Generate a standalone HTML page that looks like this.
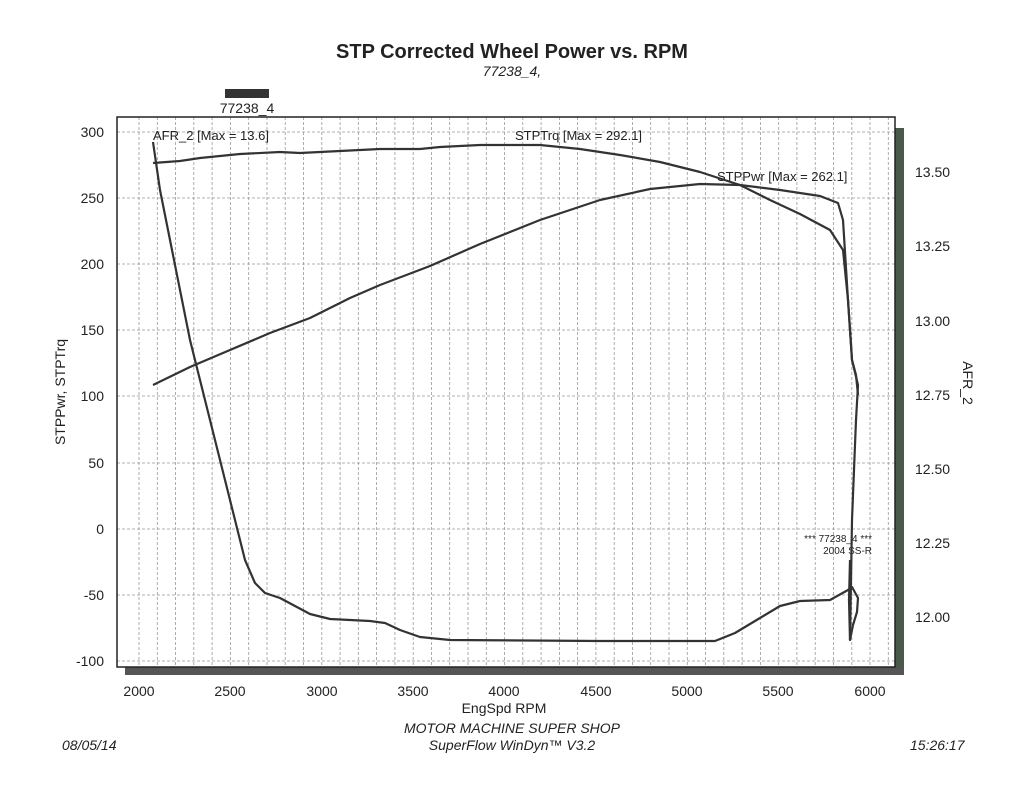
<!DOCTYPE html>
<html><head><style>body{margin:0;background:#fff}svg{display:block}</style></head><body>
<svg width="1024" height="791" viewBox="0 0 1024 791" xmlns="http://www.w3.org/2000/svg" font-family="Liberation Sans, sans-serif" fill="#222">
<rect width="1024" height="791" fill="#fff"/>
<text x="512" y="58" text-anchor="middle" font-size="20" font-weight="bold">STP Corrected Wheel Power vs. RPM</text>
<text x="512" y="76" text-anchor="middle" font-size="14" font-style="italic">77238_4,</text>
<rect x="225" y="89" width="44" height="9" fill="#333"/>
<text x="247" y="113" text-anchor="middle" font-size="14">77238_4</text>
<!-- shadow border -->
<rect x="895" y="128" width="9" height="547" fill="#4a5a4a"/>
<rect x="125" y="667" width="779" height="8" fill="#555"/>
<g stroke="#999" stroke-width="0.8" stroke-dasharray="3,2">
<line x1="139" y1="117" x2="139" y2="667"/><line x1="157.3" y1="117" x2="157.3" y2="667"/><line x1="175.6" y1="117" x2="175.6" y2="667"/><line x1="193.8" y1="117" x2="193.8" y2="667"/><line x1="212.1" y1="117" x2="212.1" y2="667"/><line x1="230.4" y1="117" x2="230.4" y2="667"/><line x1="248.7" y1="117" x2="248.7" y2="667"/><line x1="267" y1="117" x2="267" y2="667"/><line x1="285.2" y1="117" x2="285.2" y2="667"/><line x1="303.5" y1="117" x2="303.5" y2="667"/><line x1="321.8" y1="117" x2="321.8" y2="667"/><line x1="340.1" y1="117" x2="340.1" y2="667"/><line x1="358.3" y1="117" x2="358.3" y2="667"/><line x1="376.6" y1="117" x2="376.6" y2="667"/><line x1="394.9" y1="117" x2="394.9" y2="667"/><line x1="413.2" y1="117" x2="413.2" y2="667"/><line x1="431.4" y1="117" x2="431.4" y2="667"/><line x1="449.7" y1="117" x2="449.7" y2="667"/><line x1="468" y1="117" x2="468" y2="667"/><line x1="486.3" y1="117" x2="486.3" y2="667"/><line x1="504.5" y1="117" x2="504.5" y2="667"/><line x1="522.8" y1="117" x2="522.8" y2="667"/><line x1="541.1" y1="117" x2="541.1" y2="667"/><line x1="559.4" y1="117" x2="559.4" y2="667"/><line x1="577.6" y1="117" x2="577.6" y2="667"/><line x1="595.9" y1="117" x2="595.9" y2="667"/><line x1="614.2" y1="117" x2="614.2" y2="667"/><line x1="632.5" y1="117" x2="632.5" y2="667"/><line x1="650.7" y1="117" x2="650.7" y2="667"/><line x1="669" y1="117" x2="669" y2="667"/><line x1="687.3" y1="117" x2="687.3" y2="667"/><line x1="705.6" y1="117" x2="705.6" y2="667"/><line x1="723.8" y1="117" x2="723.8" y2="667"/><line x1="742.1" y1="117" x2="742.1" y2="667"/><line x1="760.4" y1="117" x2="760.4" y2="667"/><line x1="778.7" y1="117" x2="778.7" y2="667"/><line x1="796.9" y1="117" x2="796.9" y2="667"/><line x1="815.2" y1="117" x2="815.2" y2="667"/><line x1="833.5" y1="117" x2="833.5" y2="667"/><line x1="851.8" y1="117" x2="851.8" y2="667"/><line x1="870" y1="117" x2="870" y2="667"/><line x1="888.3" y1="117" x2="888.3" y2="667"/>
<line x1="117" y1="132" x2="895" y2="132"/><line x1="117" y1="198" x2="895" y2="198"/><line x1="117" y1="264" x2="895" y2="264"/><line x1="117" y1="330" x2="895" y2="330"/><line x1="117" y1="396" x2="895" y2="396"/><line x1="117" y1="463" x2="895" y2="463"/><line x1="117" y1="529" x2="895" y2="529"/><line x1="117" y1="595" x2="895" y2="595"/><line x1="117" y1="661" x2="895" y2="661"/>
</g>
<rect x="117" y="117" width="778" height="550" fill="none" stroke="#222" stroke-width="1.5"/>
<g font-size="14" text-anchor="end">
<text x="104" y="137">300</text><text x="104" y="203">250</text><text x="104" y="269">200</text><text x="104" y="335">150</text><text x="104" y="401">100</text><text x="104" y="468">50</text><text x="104" y="534">0</text><text x="104" y="600">-50</text><text x="104" y="666">-100</text>
</g>
<g font-size="14" text-anchor="start">
<text x="915" y="177">13.50</text><text x="915" y="251">13.25</text><text x="915" y="326">13.00</text><text x="915" y="400">12.75</text><text x="915" y="474">12.50</text><text x="915" y="548">12.25</text><text x="915" y="622">12.00</text>
</g>
<g font-size="14" text-anchor="middle">
<text x="139" y="696">2000</text><text x="230" y="696">2500</text><text x="322" y="696">3000</text><text x="413" y="696">3500</text><text x="504" y="696">4000</text><text x="596" y="696">4500</text><text x="687" y="696">5000</text><text x="778" y="696">5500</text><text x="870" y="696">6000</text>
<text x="504" y="713">EngSpd RPM</text>
</g>
<text transform="translate(65,392) rotate(-90)" font-size="14" text-anchor="middle">STPPwr, STPTrq</text>
<text transform="translate(963,383) rotate(90)" font-size="14" text-anchor="middle">AFR_2</text>
<g font-size="13">
<text x="153" y="140">AFR_2  [Max = 13.6]</text>
<text x="515" y="140">STPTrq [Max = 292.1]</text>
<text x="717" y="181">STPPwr [Max = 262.1]</text>
</g>
<text x="872" y="542" font-size="10" text-anchor="end">*** 77238_4 ***</text>
<text x="872" y="554" font-size="10" text-anchor="end">2004 SS-R</text>
<g fill="none" stroke="#333" stroke-width="2.2" stroke-linejoin="round">
<polyline points="153,163 180,161 200,158 240,154 280,152 300,153 340,151 380,149 420,149 440,147 480,145 540,145 580,149 620,155 660,162 700,172 740,185 770,200 800,214 830,230 843,250 848,300 852,360 858,385 856,420 852,520 850,640"/>
<polyline points="153,385 190,367 230,350 270,333 310,318 350,298 380,285 430,266 480,244 540,220 600,200 650,189 700,184 740,185 780,190 820,196 838,203 843,220 848,300 852,360 856,375 858,395"/>
<polyline points="153,142 160,190 170,240 190,340 210,420 225,480 235,520 245,560 255,583 265,593 280,598 295,606 310,614 330,619 370,621 385,623 400,630 420,637 450,640 600,641 715,641 735,633 760,618 780,606 800,601 830,600 848,590 852,587 858,598 857,612 853,625 850,640 849,600 850,560"/>
</g>
<g font-size="14" font-style="italic" text-anchor="middle">
<text x="512" y="733">MOTOR MACHINE SUPER SHOP</text>
<text x="512" y="750">SuperFlow WinDyn™ V3.2</text>
</g>
<text x="62" y="750" font-size="14" font-style="italic">08/05/14</text>
<text x="910" y="750" font-size="14" font-style="italic">15:26:17</text>
</svg>
</body></html>
